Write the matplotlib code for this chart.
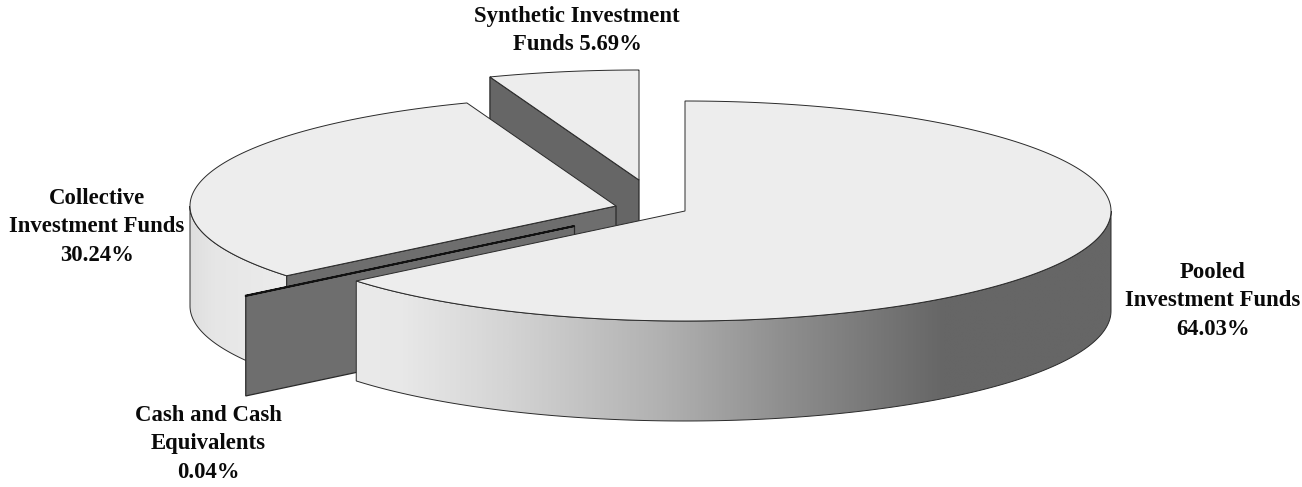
import numpy as np
import matplotlib
matplotlib.use("Agg")
import matplotlib.pyplot as plt
from matplotlib.patches import Polygon
from matplotlib.colors import LinearSegmentedColormap

# data
categories = ["Pooled\nInvestment Funds\n64.03%", "Cash and Cash\nEquivalents\n0.04%",
              "Collective\nInvestment Funds\n30.24%", "Synthetic Investment\nFunds 5.69%"]
values = [64.03, 0.04, 30.24, 5.69]

# style / layout (pixel space)
W, H = 1302, 487
A, B, DEPTH = 426, 110, 100
centers = [(685, 211), (574.5, 226), (616, 206), (639, 180)]
label_pos = [(1213, 301), (208, 444), (97, 227), (577, 30.5)]
TOP = "#ededed"
DARK = ["#666666", "#6e6e6e", "#6e6e6e", "#666666"]
EDGE = "#2a2a2a"
pooled_stops = [(0.0, "#eaeaea"), (0.06, "#e8e8e8"), (0.2, "#d4d4d4"), (0.41, "#b0b0b0"),
                (0.57, "#8e8e8e"), (0.78, "#666666"), (1.0, "#666666")]
coll_stops = [(0.0, "#dedede"), (0.25, "#e6e6e6"), (1.0, "#ececec")]

fig = plt.figure(figsize=(W / 100, H / 100), dpi=100)
ax = fig.add_axes([0, 0, 1, 1])
ax.set_xlim(0, W)
ax.set_ylim(H, 0)
ax.axis("off")


def pt(t, c):
    return c[0] + A * np.sin(t), c[1] - B * np.cos(t)


def arc(t0, t1, c, n=160):
    ts = np.linspace(t0, t1, n)
    x, y = pt(ts, c)
    return np.column_stack([x, y])


def gradient_side(t0, t1, c, stops, z):
    upper = arc(t0, t1, c)
    lower = upper + [0, DEPTH]
    poly = np.vstack([upper, lower[::-1]])
    x0, x1 = poly[:, 0].min(), poly[:, 0].max()
    cmap = LinearSegmentedColormap.from_list("g", stops)
    g = np.linspace(0, 1, 512)[None, :]
    im = ax.imshow(g, cmap=cmap, vmin=0, vmax=1, extent=(x0, x1, poly[:, 1].max(), poly[:, 1].min()),
                   aspect="auto", zorder=z, interpolation="bilinear")
    patch = Polygon(poly, closed=True, fc="none", ec=EDGE, lw=0.7, zorder=z + 0.1)
    ax.add_patch(patch)
    im.set_clip_path(patch)


cum = np.cumsum([0] + values) / 100 * 2 * np.pi
angles = list(zip(cum[:-1], cum[1:]))
z = 1
for i in [3, 2, 1, 0]:
    t0, t1 = angles[i]
    c = centers[i]
    if i != 0:
        p = np.array(pt(t0, c))
        q = np.array(c)
        ax.add_patch(Polygon([q, p, p + [0, DEPTH], q + [0, DEPTH]], closed=True,
                             fc=DARK[i], ec=EDGE, lw=0.9, zorder=z))
    z += 1
    if i == 0:
        gradient_side(np.pi / 2, t1, c, pooled_stops, z)
    elif i == 2:
        gradient_side(t0, 1.5 * np.pi, c, coll_stops, z)
    z += 1
    top = np.vstack([[c], arc(t0, t1, c, 400)])
    lw = 1.3 if i == 1 else 0.7
    ax.add_patch(Polygon(top, closed=True, fc=TOP, ec="#111111" if i == 1 else EDGE, lw=lw,
                         zorder=z, joinstyle="miter"))
    z += 1

for lab, (x, y) in zip(categories, label_pos):
    ax.text(x, y, lab, ha="center", va="center", multialignment="center",
            family="Liberation Serif", weight="bold", fontsize=16.4, linespacing=1.46,
            color="#0a0a0a", zorder=50)

ax.set_xlim(0, W)
ax.set_ylim(H, 0)
fig.savefig("out.png", dpi=100, facecolor="white")
